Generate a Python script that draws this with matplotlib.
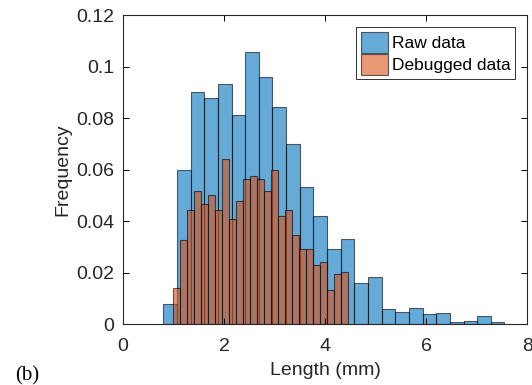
import matplotlib.pyplot as plt
import numpy as np

plt.rcParams['font.family'] = ['Liberation Sans', 'DejaVu Sans']

# Raw data histogram (25 bins, probability normalised)
raw_start = 0.80
raw_width = 0.27
raw_freq = [0.008, 0.060, 0.090, 0.0877, 0.0931, 0.081, 0.1058, 0.0958,
            0.0843, 0.0698, 0.0531, 0.0418, 0.029, 0.0329, 0.0158, 0.0184,
            0.0057, 0.0049, 0.0063, 0.0038, 0.0044, 0.0007, 0.0011, 0.0032,
            0.0007]

# Debugged data histogram (25 bins)
dbg_start = 1.00
dbg_width = 0.1382
dbg_freq = [0.014, 0.0327, 0.0445, 0.0515, 0.0466, 0.050, 0.0445, 0.064,
            0.041, 0.048, 0.0563, 0.0577, 0.0563, 0.0515, 0.0597, 0.0418,
            0.0445, 0.0348, 0.0293, 0.0293, 0.0228, 0.024, 0.0131, 0.0195,
            0.0201]

x_ticks = [0, 2, 4, 6, 8]
y_ticks = [0, 0.02, 0.04, 0.06, 0.08, 0.1, 0.12]
y_labels = ['0', '0.02', '0.04', '0.06', '0.08', '0.1', '0.12']

blue = (0, 0.447, 0.741)
orange = (0.85, 0.325, 0.098)
txt = '#262626'

fig = plt.figure(figsize=(5.32, 3.85), dpi=100)
ax = fig.add_axes([0.231, 0.158, 0.76, 0.803])

raw_edges = raw_start + raw_width * np.arange(len(raw_freq))
dbg_edges = dbg_start + dbg_width * np.arange(len(dbg_freq))

ax.bar(raw_edges, raw_freq, width=raw_width, align='edge', color=blue,
       alpha=0.6, edgecolor='black', linewidth=0.8, label='Raw data')
ax.bar(dbg_edges, dbg_freq, width=dbg_width, align='edge', color=orange,
       alpha=0.6, edgecolor='black', linewidth=0.8, label='Debugged data')

ax.set_xlim(0, 8)
ax.set_ylim(0, 0.12)
ax.set_xticks(x_ticks)
ax.set_yticks(y_ticks)
ax.set_yticklabels(y_labels)
ax.tick_params(direction='in', top=True, right=True, labelsize=14,
               length=4, width=0.7, labelcolor=txt)
ax.tick_params(axis='x', pad=10)
ax.tick_params(axis='y', pad=6)
for s in ax.spines.values():
    s.set_linewidth(0.8)
    s.set_color(txt)

ax.set_xlabel('Length (mm)', fontsize=14, labelpad=5, color=txt)
ax.set_ylabel('Frequency', fontsize=14, labelpad=4, color=txt)

leg = ax.legend(loc='upper right', fontsize=12.5, fancybox=False,
                edgecolor='#333333', framealpha=1, borderpad=0.25,
                handlelength=1.6, handleheight=1.5, handletextpad=0.2,
                labelspacing=0.05, borderaxespad=0.7)
leg.get_frame().set_linewidth(0.7)
for t in leg.get_texts():
    t.set_color('black')

fig.text(0.028, 0.012, '(b)', fontsize=15, family='Liberation Serif')

fig.savefig('out.png', dpi=100)
